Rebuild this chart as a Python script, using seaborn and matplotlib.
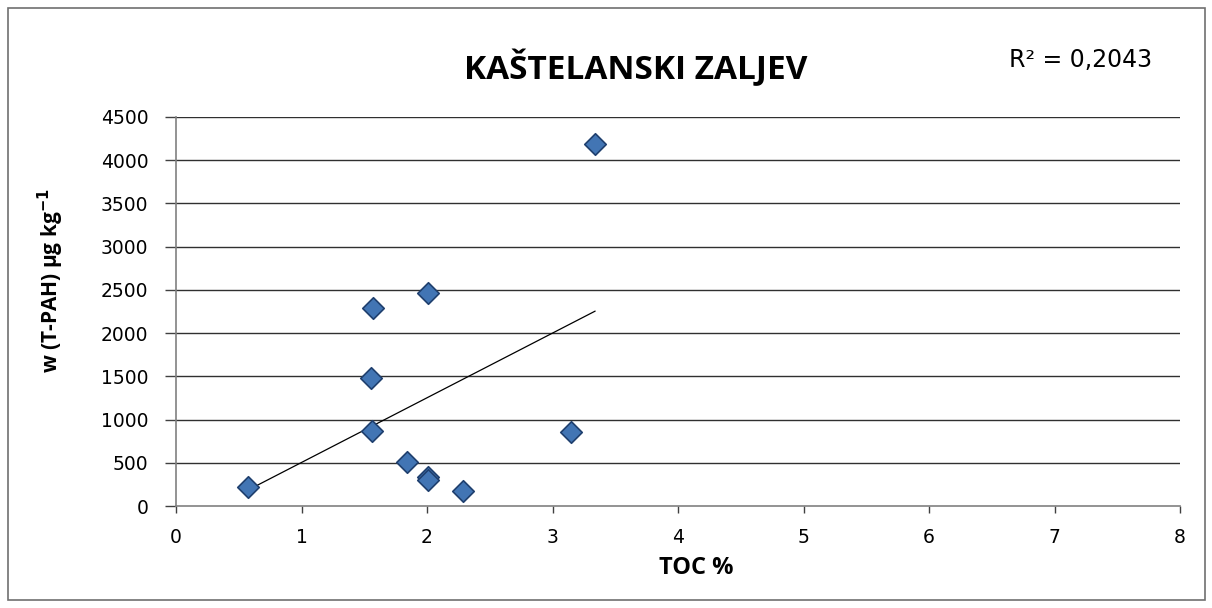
import matplotlib
matplotlib.use("Agg")
import matplotlib.pyplot as plt
from matplotlib.patches import Rectangle
import seaborn as sns
import pandas as pd

# TOC content (%) and total PAH mass fraction (µg/kg) at Kaštelanski zaljev stations
toc = [0.57, 1.56, 1.55, 1.57, 2.01, 1.84, 2.01, 2.01, 2.29, 3.15, 3.34]
tpah = [220, 870, 1485, 2285, 2460, 510, 340, 300, 175, 860, 4190]
x_ticks = [0, 1, 2, 3, 4, 5, 6, 7, 8]
y_ticks = [0, 500, 1000, 1500, 2000, 2500, 3000, 3500, 4000, 4500]
r2_label = "R² = 0,2043"

df = pd.DataFrame({"TOC": toc, "TPAH": tpah})

sns.set_theme(style="white")
plt.rcParams["font.family"] = ["Open Sans", "DejaVu Sans"]
plt.rcParams["text.color"] = "black"
plt.rcParams["axes.labelcolor"] = "black"

W, H = 1212, 608
fig = plt.figure(figsize=(W / 100, H / 100), dpi=100)
ax = fig.add_axes([176 / W, 1 - 506 / H, (1180 - 176) / W, (506 - 117) / H])

# chart frame
fig.patches.append(Rectangle((8 / W, 8 / H), (1205 - 8) / W, (600 - 8) / H,
                             transform=fig.transFigure, fill=False,
                             edgecolor="#707070", linewidth=1.2, zorder=0))

# linear trendline over the data range
sns.regplot(data=df, x="TOC", y="TPAH", ax=ax, scatter=False, ci=None,
            truncate=True, line_kws={"color": "black", "linewidth": 0.9, "zorder": 2})

sns.scatterplot(data=df, x="TOC", y="TPAH", ax=ax, marker="D", s=120,
                color="#4275b4", edgecolor="#1f3f6e", linewidth=1.2, zorder=3)

ax.set_xlim(0, 8)
ax.set_ylim(0, 4500)
ax.set_xticks(x_ticks)
ax.set_yticks(y_ticks)
ax.set_xticklabels([str(v) for v in x_ticks])
ax.set_yticklabels([str(v) for v in y_ticks])

for v in y_ticks[1:]:
    ax.axhline(v, color="#303030", linewidth=1.0, zorder=1)

for side in ["top", "right"]:
    ax.spines[side].set_visible(False)
for side in ["left", "bottom"]:
    ax.spines[side].set_color("#808080")
    ax.spines[side].set_linewidth(1.2)

for lbl in ax.get_xticklabels() + ax.get_yticklabels():
    lbl.set_fontfamily(["DejaVu Sans"])
    lbl.set_fontsize(13.5)

ax.tick_params(axis="y", direction="out", length=8, width=1, color="#404040",
               labelcolor="black", pad=12, left=True)
ax.tick_params(axis="x", direction="out", length=5, width=1, color="#404040",
               labelcolor="black", pad=11, bottom=True)

ax.set_xlabel("TOC %", fontsize=17, fontweight="bold")
ax.xaxis.set_label_coords((696 - 176) / (1180 - 176), -(556 - 506) / (506 - 117))
ax.set_ylabel(r"w (T-PAH) µg kg$^{\mathbf{-1}}$", fontsize=15, fontweight="bold")
ax.yaxis.set_label_coords(-(176 - 66) / (1180 - 176), (506 - 281) / (506 - 117))

fig.text(636 / W, 1 - 68 / H, "KAŠTELANSKI ZALJEV", ha="center", va="center",
         fontsize=24, fontweight="bold")
fig.text(1081 / W, 1 - 60 / H, r2_label, ha="center", va="center", fontsize=17,
         family=["DejaVu Sans"])

fig.savefig("out.png", dpi=100)
